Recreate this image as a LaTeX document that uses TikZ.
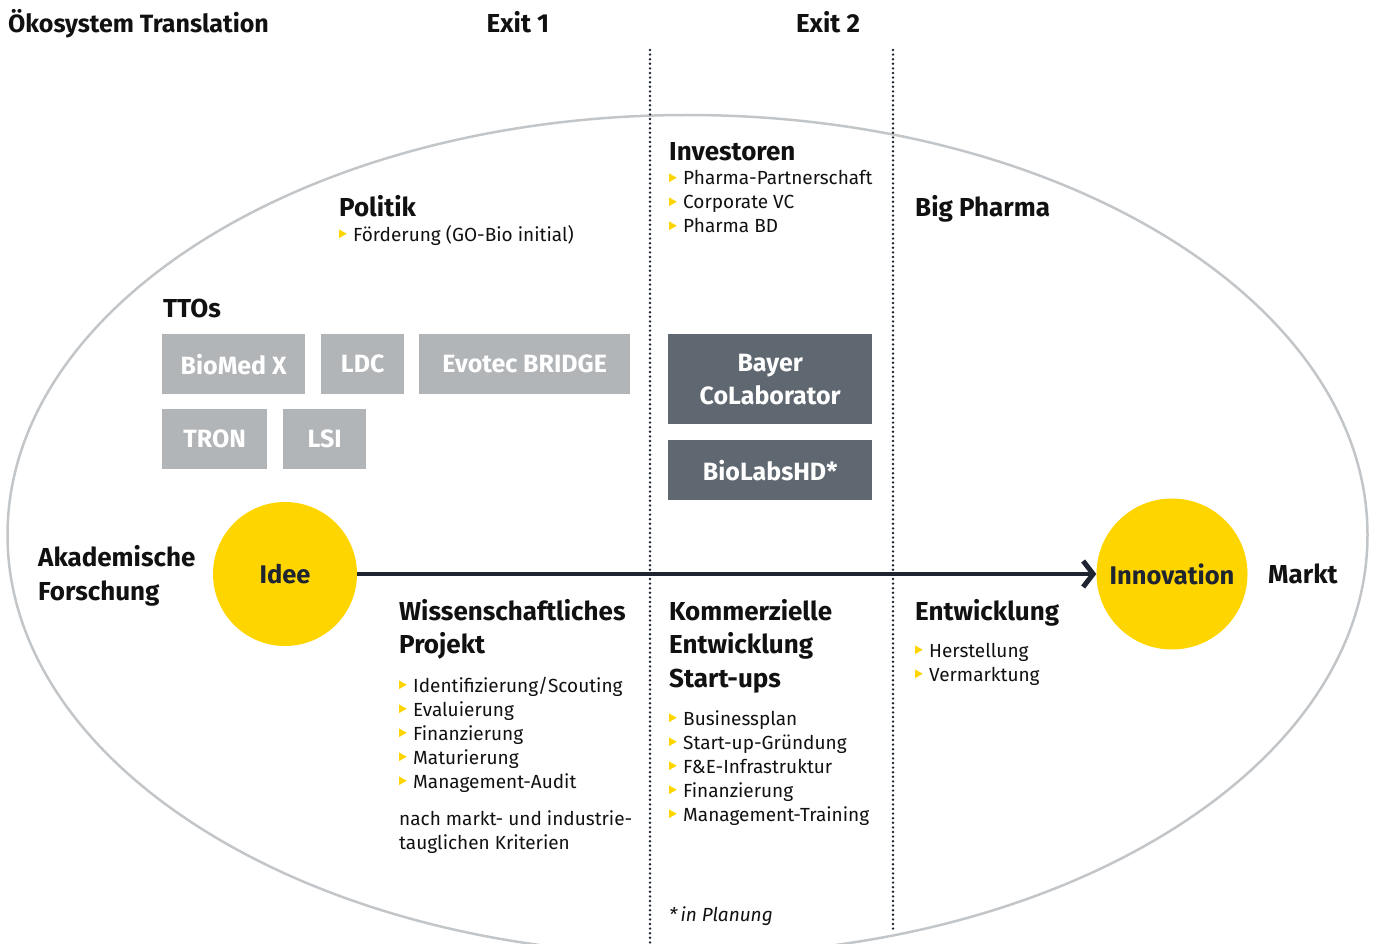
\documentclass[tikz,border=0pt]{standalone}
\usepackage{fontspec}
\setmainfont{Fira Sans}
\usetikzlibrary{arrows.meta}
\definecolor{EcoYellow}{HTML}{FFD500}
\definecolor{EcoGrey}{HTML}{B1B5B8}
\definecolor{EcoSlate}{HTML}{5F6770}
\definecolor{EcoNavy}{HTML}{1E2430}
\definecolor{EcoRing}{HTML}{C3C6C9}
\definecolor{EcoText}{HTML}{111111}
\newcommand{\bul}{\tikz[baseline=0pt]\fill[EcoYellow] (0pt,3pt) -- (0pt,11.5pt) -- (7.5pt,7.25pt) -- cycle;\hspace{6.5pt}}

\begin{document}
\begin{tikzpicture}[x=1pt,y=-1pt,
    hd/.style={anchor=base west,inner sep=0pt,align=left,text=EcoText,font=\bfseries\fontsize{26}{33.5}\selectfont},
    txt/.style={anchor=base west,inner sep=0pt,align=left,text=EcoText,font=\fontsize{19}{24}\selectfont},
    tto/.style={anchor=north west,inner sep=0pt,fill=EcoGrey,text=white,align=center,font=\bfseries\fontsize{25}{33}\selectfont},
    lab/.style={tto,fill=EcoSlate},
    circ/.style={circle,inner sep=0pt,fill=EcoYellow,text=EcoNavy,font=\bfseries\fontsize{25.5}{28}\selectfont},
    exitline/.style={EcoNavy,line width=2.7pt,line cap=round,dash pattern=on 0pt off 4.6pt}]
      \useasboundingbox (0,0) rectangle (1376,944);
      \draw[EcoRing,line width=2.5pt] (687.5,535) ellipse [x radius=680pt,y radius=420pt];
      % exits
      \coordinate (e1top) at (650,50);
      \coordinate (e1bot) at (650,944);
      \coordinate (e2top) at (893,50);
      \coordinate (e2bot) at (893,930);
      \draw[exitline] (e1top) -- (e1bot);
      \draw[exitline] (e2top) -- (e2bot);
      \node[hd,font=\bfseries\fontsize{25}{30}\selectfont] (title) at (8,33) {Ökosystem Translation};
      \node[hd,anchor=base] (exit1) at (518,33) {Exit 1};
      \node[hd,anchor=base] (exit2) at (828,33) {Exit 2};
      % actors (multi-line nodes sit on their last baseline)
      \node[hd] (politik) at (339,217) {Politik};
      \node[txt] (foerderung) at (339,241) {\bul Förderung (GO-Bio initial)};
      \node[hd] (investoren) at (669,161) {Investoren};
      \node[txt] (investlist) at (669,233) {\bul Pharma-Partnerschaft\\\bul Corporate VC\\\bul Pharma BD};
      \node[hd] (bigpharma) at (915,217) {Big Pharma};
      \node[hd] (ttos) at (163,317) {TTOs};
      \node[tto,minimum width=143pt,minimum height=60pt] (biomed) at (162,334) {BioMed X};
      \node[tto,minimum width=83pt,minimum height=60pt] (ldc) at (321,334) {LDC};
      \node[tto,minimum width=211pt,minimum height=60pt] (evotec) at (419,334) {Evotec BRIDGE};
      \node[tto,minimum width=105pt,minimum height=60pt] (tron) at (162,409) {TRON};
      \node[tto,minimum width=83pt,minimum height=60pt] (lsi) at (283,409) {LSI};
      \node[lab,minimum width=204pt,minimum height=90pt] (bayer) at (668,334) {Bayer\\CoLaborator};
      \node[lab,minimum width=204pt,minimum height=60pt] (biolabs) at (668,440) {BioLabsHD*};
      % pipeline
      \node[hd] (akademie) at (38,600) {Akademische\\Forschung};
      \node[circ,minimum size=144pt] (idee) at (285,574) {Idee};
      \node[circ,minimum size=151pt] (innovation) at (1172,574) {Innovation};
      \node[hd] (markt) at (1268,583) {Markt};
      \draw[EcoNavy,line width=4pt,-{Straight Barb[length=10pt,width=26pt,line width=5pt]}] (idee) -- (innovation);
      % phases
      \node[hd] (projekt) at (399,653.5) {Wissenschaftliches\\Projekt};
      \node[txt] (projektlist) at (399,788) {\bul Identifizierung/Scouting\\\bul Evaluierung\\\bul Finanzierung\\\bul Maturierung\\\bul Management-Audit};
      \node[txt] (kriterien) at (399,849) {nach markt- und industrie-\\tauglichen Kriterien};
      \node[hd] (startups) at (669,687) {Kommerzielle\\Entwicklung\\Start-ups};
      \node[txt] (startlist) at (669,821) {\bul Businessplan\\\bul Start-up-Gründung\\\bul F\&E-Infrastruktur\\\bul Finanzierung\\\bul Management-Training};
      \node[txt,font=\itshape\fontsize{19}{24}\selectfont] (planung) at (669,921) {*\,in Planung};
      \node[hd] (entwicklung) at (915,620) {Entwicklung};
      \node[txt] (entwlist) at (915,681) {\bul Herstellung\\\bul Vermarktung};
    \end{tikzpicture}
\end{document}
